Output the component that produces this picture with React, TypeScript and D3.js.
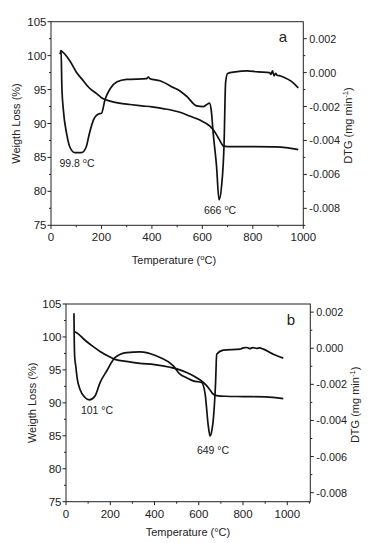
import React from "react";
import * as d3 from "d3";

// ---------- Data (panel a) ----------
const tgA: [number, number][] = [
  [36, 100.2], [40, 100.7], [50, 100.4], [75, 99.2], [100, 97.6], [128, 96.3],
  [150, 95.3], [181, 94.4], [200, 93.8], [234, 93.3], [270, 93.0], [313, 92.8],
  [360, 92.6], [400, 92.45], [444, 92.2], [511, 91.66], [550, 91.1], [590, 90.5],
  [630, 89.6], [650, 88.7], [666, 87.7], [683, 86.7], [700, 86.6], [800, 86.6],
  [880, 86.55], [930, 86.45], [980, 86.15],
];
const dtgA: [number, number][] = [
  [38, 0.0012], [40, 0.0013], [43, -0.0008], [49, -0.0022], [62, -0.0036],
  [75, -0.0044], [95, -0.00472], [121, -0.00472], [139, -0.0044], [152, -0.0036],
  [168, -0.0028], [188, -0.00244], [200, -0.0024], [214, -0.0016], [234, -0.00096],
  [260, -0.00056], [300, -0.0004], [379, -0.00036], [386, -0.00026], [392, -0.00036],
  [432, -0.00048], [485, -0.00088], [511, -0.00108], [538, -0.0014], [577, -0.00196],
  [604, -0.002], [616, -0.0019], [628, -0.0018], [635, -0.0022], [643, -0.0036],
  [656, -0.0055], [666, -0.0075], [676, -0.0067], [686, -0.0042], [692, -0.0006],
  [700, -0.00005], [730, 0.00004], [776, 0.0001], [820, 0.00004], [866, 0.0],
  [872, -0.0001], [878, 0.0001], [884, -0.0002], [890, -0.00005], [896, -0.00015],
  [910, -0.0002], [940, -0.0004], [960, -0.0006], [980, -0.0009],
];

// ---------- Data (panel b) ----------
const tgB: [number, number][] = [
  [38, 100.8], [48, 100.65], [86, 99.5], [120, 98.6], [154, 97.8], [190, 97.1],
  [221, 96.6], [280, 96.25], [334, 96.0], [400, 95.8], [470, 95.4], [515, 95.0],
  [545, 94.6], [575, 94.1], [605, 93.5], [630, 92.8], [650, 92.0], [666, 91.3],
  [681, 91.1], [720, 91.0], [800, 90.95], [900, 90.9], [982, 90.65],
];
const dtgB: [number, number][] = [
  [36, 0.00194], [37, 0.0007], [39, -0.0004], [44, -0.00098], [51, -0.0017],
  [63, -0.00227], [86, -0.00273], [105, -0.00286], [131, -0.00264], [154, -0.0019],
  [184, -0.00126], [221, -0.00052], [274, -0.00024], [334, -0.0002], [410, -0.00043],
  [485, -0.00098], [515, -0.00144], [545, -0.00163], [575, -0.00181], [613, -0.0019],
  [629, -0.00255], [643, -0.0043], [651, -0.00486], [660, -0.0045], [666, -0.0039],
  [676, -0.0019], [681, -0.00033], [711, -0.0001], [787, -0.00005], [800, 0.00002],
  [817, 0.00004], [830, -0.00002], [845, 0.00003], [862, -0.00001], [875, 0.00002],
  [892, -0.00005], [937, -0.00033], [982, -0.00055],
];

const xTicksA = [0, 200, 400, 600, 800, 1000];
const xTicksB = [0, 200, 400, 600, 800, 1000];
const yLeftTicks = [75, 80, 85, 90, 95, 100, 105];
const yRightTicks = [0.002, 0.0, -0.002, -0.004, -0.006, -0.008];

const FONT = "'Liberation Sans', Arial, sans-serif";

type PanelProps = {
  box: { l: number; r: number; t: number; b: number };
  xMax: number;
  rightDomain: [number, number];
  tg: [number, number][];
  dtg: [number, number][];
  xTicks: number[];
  letter: string;
  letterPos: [number, number];
  peaks: { text: string; x: number; y: number }[];
  xTitleY: number;
  xTitleX: number;
  leftTitleX: number;
  rightTitleX: number;
  supDegree: boolean;
};

function fmtR(v: number) {
  const s = Math.abs(v).toFixed(3);
  return v < -1e-9 ? "-" + s : s;
}

function Panel(p: PanelProps) {
  const { box } = p;
  const x = d3.scaleLinear().domain([0, p.xMax]).range([box.l, box.r]);
  const yL = d3.scaleLinear().domain([75, 105]).range([box.b, box.t]);
  const yR = d3.scaleLinear().domain(p.rightDomain).range([box.b, box.t]);
  const lineL = d3.line<[number, number]>().x((d) => x(d[0])).y((d) => yL(d[1])).curve(d3.curveMonotoneX);
  const lineR = d3.line<[number, number]>().x((d) => x(d[0])).y((d) => yR(d[1])).curve(d3.curveMonotoneX);
  const minorX = d3.range(0, p.xMax + 1, 100).filter((v) => v % 200 !== 0);
  const minorL = d3.range(77.5, 105, 5);
  const rMinor = d3.range(-0.009, 0.0031, 0.001).filter((v) => Math.round(v * 1000) % 2 !== 0 && v >= p.rightDomain[0] && v <= p.rightDomain[1]);
  const cy = (box.t + box.b) / 2;
  const deg = (t: string) => {
    const parts = t.split("°");
    if (!p.supDegree) return t;
    return (
      <>
        {parts[0]}
        <tspan dy={-4} fontSize="0.7em">o</tspan>
        <tspan dy={4}>{parts[1]}</tspan>
      </>
    );
  };
  return (
    <g fontFamily={FONT} fill="#222">
      <rect x={box.l} y={box.t} width={box.r - box.l} height={box.b - box.t} fill="none" stroke="#222" strokeWidth={1} />
      {/* bottom ticks */}
      {p.xTicks.map((v) => (
        <g key={"xt" + v}>
          <line x1={x(v)} x2={x(v)} y1={box.b} y2={box.b + 3.5} stroke="#222" />
          <text x={x(v)} y={box.b + 16} textAnchor="middle" fontSize={11.5}>{v}</text>
        </g>
      ))}
      {minorX.map((v) => (
        <line key={"xm" + v} x1={x(v)} x2={x(v)} y1={box.b} y2={box.b + 2} stroke="#222" />
      ))}
      {/* left ticks */}
      {yLeftTicks.map((v) => (
        <g key={"yl" + v}>
          <line x1={box.l - 3.5} x2={box.l} y1={yL(v)} y2={yL(v)} stroke="#222" />
          <text x={box.l - 4.5} y={yL(v) + 4} textAnchor="end" fontSize={11.5}>{v}</text>
        </g>
      ))}
      {minorL.map((v) => (
        <line key={"ylm" + v} x1={box.l - 2} x2={box.l} y1={yL(v)} y2={yL(v)} stroke="#222" />
      ))}
      {/* right ticks */}
      {yRightTicks.map((v) => (
        <g key={"yr" + v}>
          <line x1={box.r} x2={box.r + 3.5} y1={yR(v)} y2={yR(v)} stroke="#222" />
          <text x={box.r + 6} y={yR(v) + 4} textAnchor="start" fontSize={10.8}>{fmtR(v)}</text>
        </g>
      ))}
      {rMinor.map((v) => (
        <line key={"yrm" + v} x1={box.r} x2={box.r + 2} y1={yR(v)} y2={yR(v)} stroke="#222" />
      ))}
      {/* curves */}
      <path d={lineL(p.tg) || ""} fill="none" stroke="#111" strokeWidth={1.7} />
      <path d={lineR(p.dtg) || ""} fill="none" stroke="#111" strokeWidth={1.7} />
      {/* annotations */}
      {p.peaks.map((pk) => (
        <text key={pk.text} x={pk.x} y={pk.y} textAnchor="middle" fontSize={10.5}>{deg(pk.text)}</text>
      ))}
      <text x={p.letterPos[0]} y={p.letterPos[1]} textAnchor="middle" fontSize={15}>{p.letter}</text>
      {/* titles */}
      <text x={p.xTitleX} y={p.xTitleY} textAnchor="middle" fontSize={11}>{deg("Temperature (°C)")}</text>
      <text transform={`translate(${p.leftTitleX},${cy}) rotate(-90)`} textAnchor="middle" fontSize={11}>Weigth Loss (%)</text>
      <text transform={`translate(${p.rightTitleX},${cy + 2}) rotate(-90)`} textAnchor="middle" fontSize={11}>
        DTG (mg min<tspan dy={-4} fontSize="0.7em">-1</tspan><tspan dy={4}>)</tspan>
      </text>
    </g>
  );
}

export default function App() {
  return (
    <svg width={375} height={543} style={{ position: "absolute", left: 0, top: 0, background: "#fff" }}>
      <rect width={375} height={543} fill="#fff" />
      <Panel
        box={{ l: 51, r: 303.3, t: 21.7, b: 225.3 }}
        xMax={1000}
        rightDomain={[-0.009, 0.003]}
        tg={tgA}
        dtg={dtgA}
        xTicks={xTicksA}
        letter="a"
        letterPos={[283, 42]}
        peaks={[
          { text: "99.8 °C", x: 77, y: 167 },
          { text: "666 °C", x: 220, y: 214 },
        ]}
        xTitleX={174}
        xTitleY={264}
        leftTitleX={20}
        rightTitleX={352}
        supDegree={true}
      />
      <Panel
        box={{ l: 66, r: 310.3, t: 304, b: 501.7 }}
        xMax={1104}
        rightDomain={[-0.0085, 0.00245]}
        tg={tgB}
        dtg={dtgB}
        xTicks={xTicksB}
        letter="b"
        letterPos={[291, 325]}
        peaks={[
          { text: "101 °C", x: 97, y: 414 },
          { text: "649 °C", x: 213, y: 454 },
        ]}
        xTitleX={188}
        xTitleY={536}
        leftTitleX={36}
        rightTitleX={359}
        supDegree={false}
      />
    </svg>
  );
}
